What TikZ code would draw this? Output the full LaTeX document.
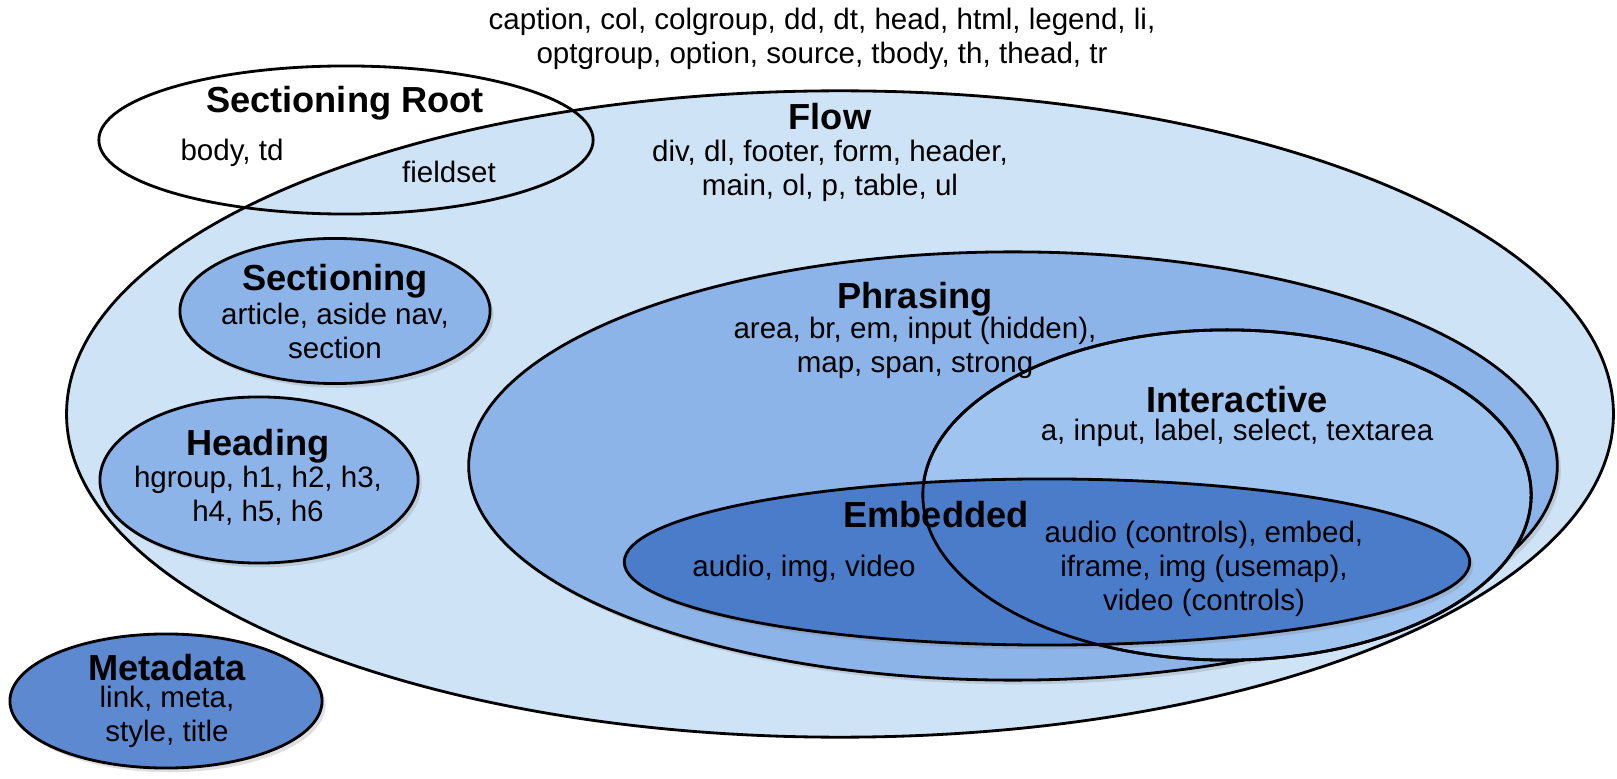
\documentclass[tikz,border=0pt]{standalone}
\usepackage{fontspec}
\setmainfont{Liberation Sans}
\usetikzlibrary{shapes.geometric, shadows}

\definecolor{flowfill}{RGB}{207,227,247}
\definecolor{midfill}{RGB}{140,180,232}
\definecolor{interfill}{RGB}{160,196,240}
\definecolor{deepfill}{RGB}{74,124,202}

\begin{document}
\begin{tikzpicture}[
  x=0.01cm, y=-0.01cm,
  set/.style={ellipse, draw, line width=0.8pt, inner sep=0pt},
  soft/.style={drop shadow={opacity=0.25, shadow xshift=1pt, shadow yshift=-1.2pt}},
  title/.style={font=\fontsize{10.3}{12}\selectfont\bfseries},
  items/.style={font=\fontsize{8.4}{9.6}\selectfont, align=center}
]
\useasboundingbox (0,0) rectangle (1617,779);

% Outer set and the sets that sit beside it
\node[set, fill=flowfill, minimum width=15.46cm, minimum height=6.46cm] (flow) at (840,414) {};
\node[set, minimum width=4.94cm, minimum height=1.48cm] (root) at (346,140) {};
\node[set, soft, fill=midfill, minimum width=3.10cm, minimum height=1.45cm] (sect) at (335,311) {};
\node[set, soft, fill=midfill, minimum width=3.18cm, minimum height=1.66cm] (head) at (259,480) {};
\node[set, soft, fill=deepfill!90!white, minimum width=3.12cm, minimum height=1.34cm] (meta) at (166,701) {};

% Nested sets
\node[set, soft, fill=midfill, minimum width=10.88cm, minimum height=4.28cm] (phr) at (1013,466) {};
\node[set, fill=interfill, minimum width=6.08cm, minimum height=3.30cm] (inter) at (1227,495) {};
\node[set, soft, fill=deepfill, minimum width=8.45cm, minimum height=1.66cm] (emb) at (1047,562) {};
\node[set, minimum width=6.08cm, minimum height=3.30cm] (interedge) at (inter) {};

% Labels
\node[items] (loose) at (822,39) {caption, col, colgroup, dd, dt, head, html, legend, li,\\optgroup, option, source, tbody, th, thead, tr};

\node[title] (flowname) at (830,117) {Flow};
\node[items] (flowlist) at (830,171) {div, dl, footer, form, header,\\main, ol, p, table, ul};

\node[title] (rootname) at (345,103) {Sectioning Root};
\node[items] (rootlist) at (232,153) {body, td};
\node[items] (rootflow) at (449,172) {fieldset};

\node[title] (sectname) at (335,281) {Sectioning};
\node[items] (sectlist) at (335,331) {article, aside nav,\\section};

\node[title] (headname) at (258,446) {Heading};
\node[items] (headlist) at (258,496) {hgroup, h1, h2, h3,\\h4, h5, h6};

\node[title] (metaname) at (167,668) {Metadata};
\node[items] (metalist) at (167,717) {link, meta,\\style, title};

\node[title] (phrname) at (915,299) {Phrasing};
\node[items] (phrlist) at (915,348) {area, br, em, input (hidden),\\map, span, strong};

\node[title] (intername) at (1237,400) {Interactive};
\node[items] (interlist) at (1237,433) {a, input, label, select, textarea};

\node[title] (embname) at (936,515) {Embedded};
\node[items] (emblist) at (804,569) {audio, img, video};
\node[items] (embinter) at (1204,569) {audio (controls), embed,\\iframe, img (usemap),\\video (controls)};

\end{tikzpicture}
\end{document}
